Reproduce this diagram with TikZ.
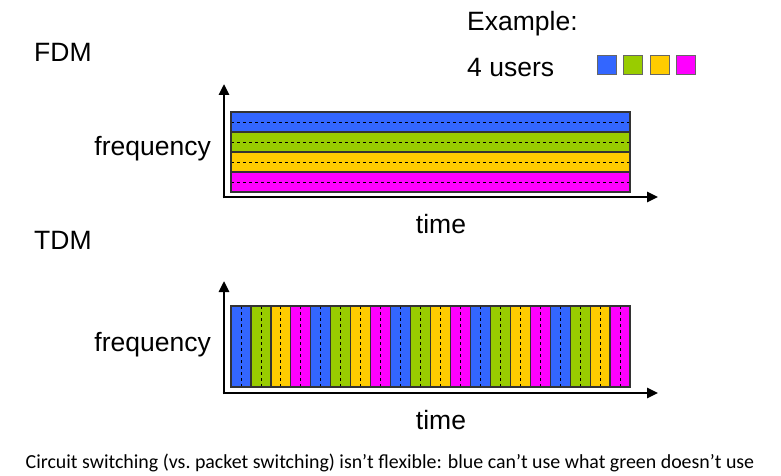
\documentclass[tikz,border=0pt]{standalone}
\usepackage{fontspec}
\setmainfont{Liberation Sans}
\newfontfamily\capfont{Carlito}
\usetikzlibrary{arrows.meta}
\definecolor{ublue}{HTML}{3366FF}
\definecolor{ugreen}{HTML}{99CC00}
\definecolor{uyellow}{HTML}{FFCC00}
\definecolor{umag}{HTML}{FF00FF}
\begin{document}
\begin{tikzpicture}[x=1pt,y=-1pt,
  lbl/.style={font=\fontsize{26.5}{31}\selectfont, inner sep=0pt},
  axis/.style={line width=2.6pt, -{Triangle[length=11pt,width=10pt]}},
  band/.style={draw=black!80, line width=1.2pt},
  dash line/.style={dash pattern=on 3pt off 3pt, line width=0.8pt},
  sq/.style={draw=black!60, line width=1pt, minimum size=19pt, inner sep=0pt}]
\useasboundingbox (0,0) rectangle (781,476);
% texts
\node[lbl, anchor=west] (fdm) at (34,52) {FDM};
\node[lbl, anchor=west] (tdm) at (34,240) {TDM};
\node[lbl, anchor=east] (f1) at (211,149) {frequency};
\node[lbl, anchor=east] (f2) at (211,345) {frequency};
\node[lbl] (t1) at (441,224) {time};
\node[lbl] (t2) at (441,420) {time};
\node[lbl, anchor=west] (ex) at (467,24) {Example:};
\node[lbl, anchor=west] (us) at (467,68) {4 users};
\node[sq, fill=ublue] (s1) at (607,65) {};
\node[sq, fill=ugreen] (s2) at (633,65) {};
\node[sq, fill=uyellow] (s3) at (660,65) {};
\node[sq, fill=umag] (s4) at (686,65) {};
\node[font=\capfont\fontsize{19.9}{22}\selectfont, inner sep=0pt] (cap) at (390,463) {Circuit switching (vs.\ packet switching) isn’t flexible: blue can’t use what green doesn’t use};
% FDM bands
\foreach \c [count=\i from 0] in {ublue,ugreen,uyellow,umag}{
  \fill[\c] (231,112+20*\i) rectangle (630,132+20*\i);
  \draw[dash line] (231,122+20*\i) -- (630,122+20*\i);
  \draw[band] (231,112+20*\i) rectangle (630,132+20*\i);
}
% TDM strips
\foreach \k in {0,...,19}{
  \pgfmathtruncatemacro{\m}{mod(\k,4)}
  \ifcase\m \def\cc{ublue}\or \def\cc{ugreen}\or \def\cc{uyellow}\or \def\cc{umag}\fi
  \fill[\cc] (231+19.95*\k,306) rectangle (231+19.95*\k+19.95,387);
  \draw[dash line] (231+19.95*\k+9.975,306) -- (231+19.95*\k+9.975,387);
  \draw[band] (231+19.95*\k,306) rectangle (231+19.95*\k+19.95,387);
}
% axes
\coordinate (o1) at (224,197);
\coordinate (y1) at (224,84);
\coordinate (x1) at (658,197);
\coordinate (o2) at (224,393);
\coordinate (y2) at (224,281);
\coordinate (x2) at (658,393);
\draw[axis] ([yshift=-1.3pt]o1) -- (y1);
\draw[axis] ([xshift=-1.3pt]o1) -- (x1);
\draw[axis] ([yshift=-1.3pt]o2) -- (y2);
\draw[axis] ([xshift=-1.3pt]o2) -- (x2);
\end{tikzpicture}
\end{document}
